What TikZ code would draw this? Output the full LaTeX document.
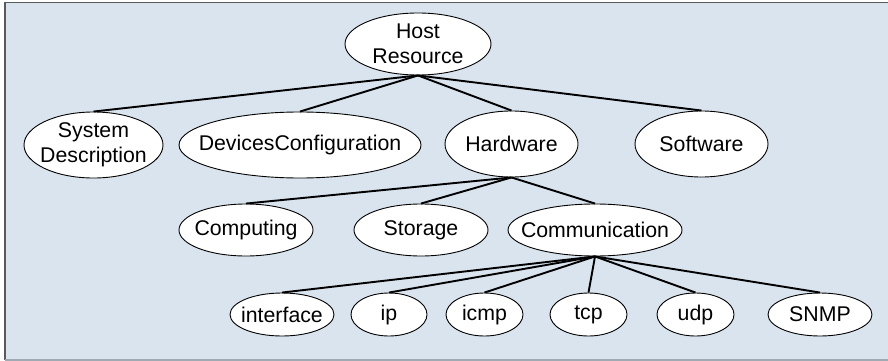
\documentclass[tikz,border=0pt]{standalone}
\usepackage{fontspec}
\setmainfont{Liberation Sans}
\usetikzlibrary{shapes.geometric}
\definecolor{bgblue}{RGB}{217,228,238}
\definecolor{frameDark}{RGB}{90,90,90}
\definecolor{frameLight}{RGB}{160,170,178}
\tikzset{
  ell/.style={ellipse, draw=black, line width=0.9pt, fill=white, inner sep=0pt},
  lbl/.style={inner sep=0pt, font=\fontsize{21.3}{25.5}\selectfont, align=center},
  link/.style={line width=1.9pt, black}
}
\begin{document}
\begin{tikzpicture}[x=1pt,y=-1pt]
\useasboundingbox (0,0) rectangle (888,361);
\fill[bgblue] (5,2) rectangle (888,360);
\draw[frameDark, line width=1.2pt] (5,360) -- (5,2.5) -- (888,2.5);
\draw[frameLight, line width=1.2pt] (5,360) -- (888,360);
% level 1
\node[ell, minimum width=146pt, minimum height=62pt] (host) at (418,44) {};
% level 2
\node[ell, minimum width=139pt, minimum height=66pt] (sys) at (93.5,145) {};
\node[ell, minimum width=242pt, minimum height=66pt] (dev) at (300,145) {};
\node[ell, minimum width=133pt, minimum height=66pt] (hw) at (511.5,144) {};
\node[ell, minimum width=133pt, minimum height=66pt] (sw) at (701.5,144) {};
% level 3
\node[ell, minimum width=134pt, minimum height=52pt] (comp) at (246,230) {};
\node[ell, minimum width=134pt, minimum height=52pt] (stor) at (421,230) {};
\node[ell, minimum width=174pt, minimum height=52pt] (comm) at (595,230) {};
% level 4
\node[ell, minimum width=104pt, minimum height=43pt] (if) at (282,314.5) {};
\node[ell, minimum width=76pt, minimum height=43pt] (ip) at (389,314.5) {};
\node[ell, minimum width=77pt, minimum height=43pt] (icmp) at (484.5,314.5) {};
\node[ell, minimum width=77pt, minimum height=43pt] (tcp) at (588.5,314.5) {};
\node[ell, minimum width=77pt, minimum height=43pt] (udp) at (695.5,314.5) {};
\node[ell, minimum width=104pt, minimum height=43pt] (snmp) at (820,314.5) {};
% labels
\node[lbl] (thost) at (host) {Host\\Resource};
\node[lbl] (tsys) at (sys) {System\\Description};
\node[lbl] (tdev) at (dev) {DevicesConfiguration};
\node[lbl] (thw) at (hw) {Hardware};
\node[lbl] (tsw) at (sw) {Software};
\node[lbl] (tcomp) at (comp) {Computing};
\node[lbl] (tstor) at (stor) {Storage};
\node[lbl] (tcomm) at (comm) {Communication};
\node[lbl] (tif) at (if) {interface};
\node[lbl] (tip) at (ip) {ip};
\node[lbl] (ticmp) at (icmp) {icmp};
\node[lbl] (ttcp) at (tcp) {tcp};
\node[lbl] (tudp) at (udp) {udp};
\node[lbl] (tsnmp) at (snmp) {SNMP};
% edges
\foreach \c in {sys,dev,hw,sw} \draw[link] (host.south) -- (\c.north);
\foreach \c in {comp,stor,comm} \draw[link] (hw.south) -- (\c.north);
\foreach \c in {if,ip,icmp,tcp,udp,snmp} \draw[link] (comm.south) -- (\c.north);
\end{tikzpicture}
\end{document}
